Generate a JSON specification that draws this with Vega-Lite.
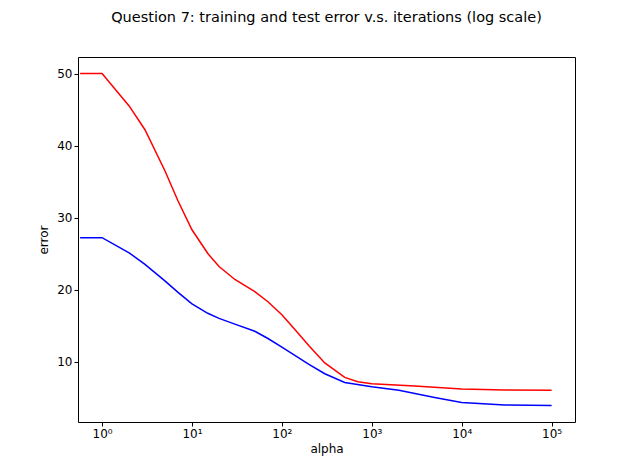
{
  "$schema": "https://vega.github.io/schema/vega-lite/v6.json",
  "width": 497,
  "height": 365,
  "autosize": {"type": "none"},
  "padding": {"left": 78, "top": 57, "right": 65, "bottom": 52},
  "title": {"text": "Question 7: training and test error v.s. iterations (log scale)", "font": "DejaVu Sans", "fontSize": 14.5, "fontWeight": "normal", "offset": 32, "color": "black"},
  "config": {"view": {"stroke": "black", "strokeWidth": 1}, "axis": {"grid": false, "domain": false, "tickColor": "black", "labelColor": "black", "labelFont": "DejaVu Sans", "labelFontSize": 12, "titleFont": "DejaVu Sans", "titleFontSize": 12, "titleFontWeight": "normal", "tickSize": 4}},
  "data": {"values": [
    {"x": 0.57, "e": 50, "s": "train"}, {"x": 1, "e": 50, "s": "train"}, {"x": 2, "e": 45.5, "s": "train"}, {"x": 3, "e": 42.2, "s": "train"}, {"x": 5, "e": 36.5, "s": "train"}, {"x": 7, "e": 32.3, "s": "train"}, {"x": 10, "e": 28.3, "s": "train"}, {"x": 15, "e": 25, "s": "train"}, {"x": 20, "e": 23.2, "s": "train"}, {"x": 30, "e": 21.4, "s": "train"}, {"x": 50, "e": 19.7, "s": "train"}, {"x": 70, "e": 18.3, "s": "train"}, {"x": 100, "e": 16.5, "s": "train"}, {"x": 150, "e": 14, "s": "train"}, {"x": 200, "e": 12.2, "s": "train"}, {"x": 300, "e": 9.8, "s": "train"}, {"x": 500, "e": 7.8, "s": "train"}, {"x": 700, "e": 7.2, "s": "train"}, {"x": 1000, "e": 6.9, "s": "train"}, {"x": 3000, "e": 6.6, "s": "train"}, {"x": 10000, "e": 6.2, "s": "train"}, {"x": 30000, "e": 6.05, "s": "train"}, {"x": 100000, "e": 6.0, "s": "train"},
    {"x": 0.57, "e": 27.2, "s": "test"}, {"x": 1, "e": 27.2, "s": "test"}, {"x": 2, "e": 25.1, "s": "test"}, {"x": 3, "e": 23.5, "s": "test"}, {"x": 5, "e": 21.2, "s": "test"}, {"x": 7, "e": 19.6, "s": "test"}, {"x": 10, "e": 18, "s": "test"}, {"x": 15, "e": 16.7, "s": "test"}, {"x": 20, "e": 16, "s": "test"}, {"x": 30, "e": 15.2, "s": "test"}, {"x": 50, "e": 14.2, "s": "test"}, {"x": 70, "e": 13.2, "s": "test"}, {"x": 100, "e": 12, "s": "test"}, {"x": 200, "e": 9.6, "s": "test"}, {"x": 300, "e": 8.3, "s": "test"}, {"x": 500, "e": 7.1, "s": "test"}, {"x": 1000, "e": 6.5, "s": "test"}, {"x": 2000, "e": 6.0, "s": "test"}, {"x": 5000, "e": 5.0, "s": "test"}, {"x": 10000, "e": 4.3, "s": "test"}, {"x": 30000, "e": 3.95, "s": "test"}, {"x": 100000, "e": 3.9, "s": "test"}
  ]},
  "mark": {"type": "line", "interpolate": "linear", "strokeWidth": 1.5, "clip": true},
  "encoding": {
    "x": {"field": "x", "type": "quantitative", "title": "alpha", "scale": {"type": "log", "domain": [0.54, 182000], "nice": false}, "axis": {"values": [1, 10, 100, 1000, 10000, 100000], "labelExpr": "datum.value == 1 ? '10⁰' : datum.value == 10 ? '10¹' : datum.value == 100 ? '10²' : datum.value == 1000 ? '10³' : datum.value == 10000 ? '10⁴' : '10⁵'"}},
    "y": {"field": "e", "type": "quantitative", "title": "error", "scale": {"domain": [1.6, 52.3], "nice": false, "zero": false}, "axis": {"values": [10, 20, 30, 40, 50], "titlePadding": 6}},
    "color": {"field": "s", "type": "nominal", "legend": null, "scale": {"domain": ["train", "test"], "range": ["red", "blue"]}}
  }
}
